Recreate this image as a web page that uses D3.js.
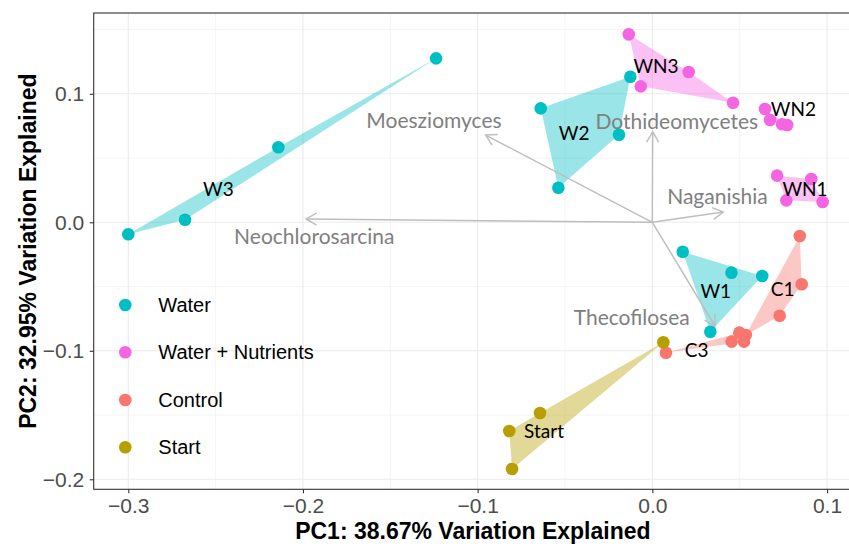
<!DOCTYPE html>
<html>
<head>
<meta charset="utf-8">
<script src="https://cdn.jsdelivr.net/npm/d3@7"></script>
<style>
  html, body { margin: 0; padding: 0; background: #fff; }
  svg { display: block; }
</style>
</head>
<body>
<svg id="chart" width="849" height="546"></svg>
<script>
// PCA biplot: sample scores per treatment group, convex hulls per replicate set,
// and loading arrows for the most influential taxa.

const treatments = ["Water", "Water + Nutrients", "Control", "Start"];
const treatmentColors = ["#00BFC4", "#F564E3", "#F8766D", "#B79F00"];

// replicate groups: name, treatment, PC1 scores, PC2 scores
const groupNames = ["W3", "W2", "W1", "WN3", "WN2", "WN1", "C1", "C3", "Start"];
const groupTreatment = ["Water", "Water", "Water", "Water + Nutrients", "Water + Nutrients", "Water + Nutrients", "Control", "Control", "Start"];
const groupPC1 = [
  [-0.3000, -0.2675, -0.2141, -0.1238],
  [-0.0639, -0.0126, -0.0191, -0.0538],
  [0.0174, 0.0453, 0.0629, 0.0332],
  [-0.0135, 0.0208, -0.0066, 0.0462],
  [0.0645, 0.0674, 0.0743, 0.0772],
  [0.0714, 0.0910, 0.0767, 0.0975],
  [0.0844, 0.0855, 0.0729, 0.0535],
  [0.0078, 0.0498, 0.0454, 0.0525],
  [0.0063, -0.0643, -0.0819, -0.0803]
];
const groupPC2 = [
  [-0.0093, 0.0020, 0.0584, 0.1276],
  [0.0887, 0.1133, 0.0682, 0.0269],
  [-0.0229, -0.0392, -0.0418, -0.0852],
  [0.1463, 0.1170, 0.1058, 0.0931],
  [0.0882, 0.0796, 0.0763, 0.0757],
  [0.0363, 0.0337, 0.0171, 0.0158],
  [-0.0107, -0.0482, -0.0727, -0.0877],
  [-0.1015, -0.0859, -0.0929, -0.0929],
  [-0.0934, -0.1484, -0.1624, -0.1920]
];
// where each replicate-group name sits
const groupLabelPC1 = [-0.2484, -0.0448, 0.0363, 0.0021, 0.0807, 0.0874, 0.0746, 0.0254, -0.0620];
const groupLabelPC2 = [0.0265, 0.0700, -0.0532, 0.1224, 0.0887, 0.0265, -0.0514, -0.0988, -0.1619];

// taxa loadings (arrow tips) and their label anchors
const taxa = ["Moesziomyces", "Dothideomycetes", "Naganishia", "Neochlorosarcina", "Thecofilosea"];
const loadPC1 = [-0.0954, 0.0002, 0.0406, -0.1982, 0.0359];
const loadPC2 = [0.0679, 0.0705, 0.0080, 0.0026, -0.0807];
const taxaLabelPC1 = [-0.1250, 0.0140, 0.0373, -0.1935, -0.0118];
const taxaLabelPC2 = [0.0802, 0.0796, 0.0207, -0.0104, -0.0735];

const xTicks = [-0.3, -0.2, -0.1, 0.0, 0.1];
const yTicks = [-0.2, -0.1, 0.0, 0.1];
const xMinor = [-0.25, -0.15, -0.05, 0.05];
const yMinor = [-0.15, -0.05, 0.05, 0.15];

const xTitle = "PC1: 38.67% Variation Explained";
const yTitle = "PC2: 32.95% Variation Explained";

// ---- layout ----
const panel = { left: 93.7, top: 13, right: 852, bottom: 489.3 };
const svg = d3.select("#chart");

const x = d3.scaleLinear().domain([-0.3198, 0.1143]).range([panel.left, panel.right]);
const y = d3.scaleLinear().domain([-0.2078, 0.1629]).range([panel.bottom, panel.top]);
const color = d3.scaleOrdinal().domain(treatments).range(treatmentColors);

const labelFont = "Lato, 'Open Sans', sans-serif";
const axisFont = "'Liberation Sans', Arial, Helvetica, sans-serif";

// clip to panel
svg.append("defs").append("clipPath").attr("id", "panel-clip")
  .append("rect")
  .attr("x", panel.left).attr("y", panel.top)
  .attr("width", panel.right - panel.left).attr("height", panel.bottom - panel.top);

// ---- grid ----
const grid = svg.append("g");
grid.selectAll("line.xminor").data(xMinor).join("line")
  .attr("x1", d => x(d)).attr("x2", d => x(d))
  .attr("y1", panel.top).attr("y2", panel.bottom)
  .attr("stroke", "#EBEBEB").attr("stroke-width", 0.55);
grid.selectAll("line.yminor").data(yMinor).join("line")
  .attr("y1", d => y(d)).attr("y2", d => y(d))
  .attr("x1", panel.left).attr("x2", panel.right)
  .attr("stroke", "#EBEBEB").attr("stroke-width", 0.55);
grid.selectAll("line.xmajor").data(xTicks).join("line")
  .attr("x1", d => x(d)).attr("x2", d => x(d))
  .attr("y1", panel.top).attr("y2", panel.bottom)
  .attr("stroke", "#EBEBEB").attr("stroke-width", 1.1);
grid.selectAll("line.ymajor").data(yTicks).join("line")
  .attr("y1", d => y(d)).attr("y2", d => y(d))
  .attr("x1", panel.left).attr("x2", panel.right)
  .attr("stroke", "#EBEBEB").attr("stroke-width", 1.1);

const plot = svg.append("g").attr("clip-path", "url(#panel-clip)");

// ---- groups ----
const groups = groupNames.map((name, i) => ({
  name,
  treatment: groupTreatment[i],
  points: groupPC1[i].map((v, j) => [v, groupPC2[i][j]]),
  label: [groupLabelPC1[i], groupLabelPC2[i]]
}));

// convex hulls
plot.append("g").selectAll("path").data(groups).join("path")
  .attr("d", g => {
    const hull = d3.polygonHull(g.points.map(p => [x(p[0]), y(p[1])]));
    return "M" + hull.map(p => p.join(",")).join("L") + "Z";
  })
  .attr("fill", g => color(g.treatment))
  .attr("fill-opacity", 0.4)
  .attr("stroke", "none");

// loading arrows
const arrowCol = "#BEBEBE";
const arrows = plot.append("g");
taxa.forEach((t, i) => {
  const x0 = x(0), y0 = y(0);
  const x1 = x(loadPC1[i]), y1 = y(loadPC2[i]);
  const ang = Math.atan2(y1 - y0, x1 - x0);
  const len = 12, spread = Math.PI / 6;
  arrows.append("line")
    .attr("x1", x0).attr("y1", y0).attr("x2", x1).attr("y2", y1)
    .attr("stroke", arrowCol).attr("stroke-width", 1.5);
  const p1 = [x1 - len * Math.cos(ang - spread), y1 - len * Math.sin(ang - spread)];
  const p2 = [x1 - len * Math.cos(ang + spread), y1 - len * Math.sin(ang + spread)];
  arrows.append("path")
    .attr("d", `M${p1[0]},${p1[1]}L${x1},${y1}L${p2[0]},${p2[1]}`)
    .attr("fill", "none").attr("stroke", arrowCol).attr("stroke-width", 1.5)
    .attr("stroke-linejoin", "miter");
});

// sample points
const pts = groups.flatMap(g => g.points.map(p => ({ p, treatment: g.treatment })));
plot.append("g").selectAll("circle").data(pts).join("circle")
  .attr("cx", d => x(d.p[0])).attr("cy", d => y(d.p[1]))
  .attr("r", 6.3)
  .attr("fill", d => color(d.treatment));

// taxa labels
plot.append("g").selectAll("text").data(taxa).join("text")
  .attr("x", (d, i) => x(taxaLabelPC1[i]))
  .attr("y", (d, i) => y(taxaLabelPC2[i]))
  .attr("text-anchor", "middle")
  .attr("dominant-baseline", "central")
  .attr("font-family", labelFont)
  .attr("font-size", 21)
  .attr("fill", "#808080")
  .text(d => d);

// replicate-group labels
plot.append("g").selectAll("text").data(groups).join("text")
  .attr("x", g => x(g.label[0]))
  .attr("y", g => y(g.label[1]))
  .attr("text-anchor", "middle")
  .attr("dominant-baseline", "central")
  .attr("font-family", labelFont)
  .attr("font-size", 19)
  .attr("fill", "#000")
  .text(g => g.name);

// ---- legend (inside panel, no background) ----
const legend = svg.append("g");
const legendY = [305, 352.3, 400, 447.3];
treatments.forEach((t, i) => {
  legend.append("circle")
    .attr("cx", 125.3).attr("cy", legendY[i]).attr("r", 6.3)
    .attr("fill", color(t));
  legend.append("text")
    .attr("x", 158.3).attr("y", legendY[i])
    .attr("dominant-baseline", "central")
    .attr("font-family", axisFont)
    .attr("font-size", 20)
    .attr("fill", "#000")
    .text(t);
});

// ---- axes ----
const fmt = d3.format(".1f");
const xAxis = svg.append("g")
  .attr("transform", `translate(0,${panel.bottom})`)
  .call(d3.axisBottom(x).tickValues(xTicks).tickFormat(fmt).tickSize(4).tickPadding(4.5).tickSizeOuter(0));
const yAxis = svg.append("g")
  .attr("transform", `translate(${panel.left},0)`)
  .call(d3.axisLeft(y).tickValues(yTicks).tickFormat(fmt).tickSize(4).tickPadding(5.4).tickSizeOuter(0));
[xAxis, yAxis].forEach(a => {
  a.select(".domain").remove();
  a.selectAll(".tick line").attr("stroke", "#333333").attr("stroke-width", 1.1);
  a.selectAll(".tick text")
    .attr("font-family", axisFont).attr("font-size", 21).attr("fill", "#4D4D4D");
});

// panel border (grey20)
svg.append("rect")
  .attr("x", panel.left).attr("y", panel.top)
  .attr("width", panel.right - panel.left).attr("height", panel.bottom - panel.top)
  .attr("fill", "none").attr("stroke", "#333333").attr("stroke-width", 1.1);

// axis titles
svg.append("text")
  .attr("x", (panel.left + panel.right) / 2).attr("y", 538.5)
  .attr("text-anchor", "middle")
  .attr("font-family", axisFont).attr("font-weight", "bold").attr("font-size", 23)
  .attr("fill", "#000")
  .text(xTitle);
svg.append("text")
  .attr("transform", `translate(36,${(panel.top + panel.bottom) / 2}) rotate(-90)`)
  .attr("text-anchor", "middle")
  .attr("font-family", axisFont).attr("font-weight", "bold").attr("font-size", 23)
  .attr("fill", "#000")
  .text(yTitle);
</script>
</body>
</html>
